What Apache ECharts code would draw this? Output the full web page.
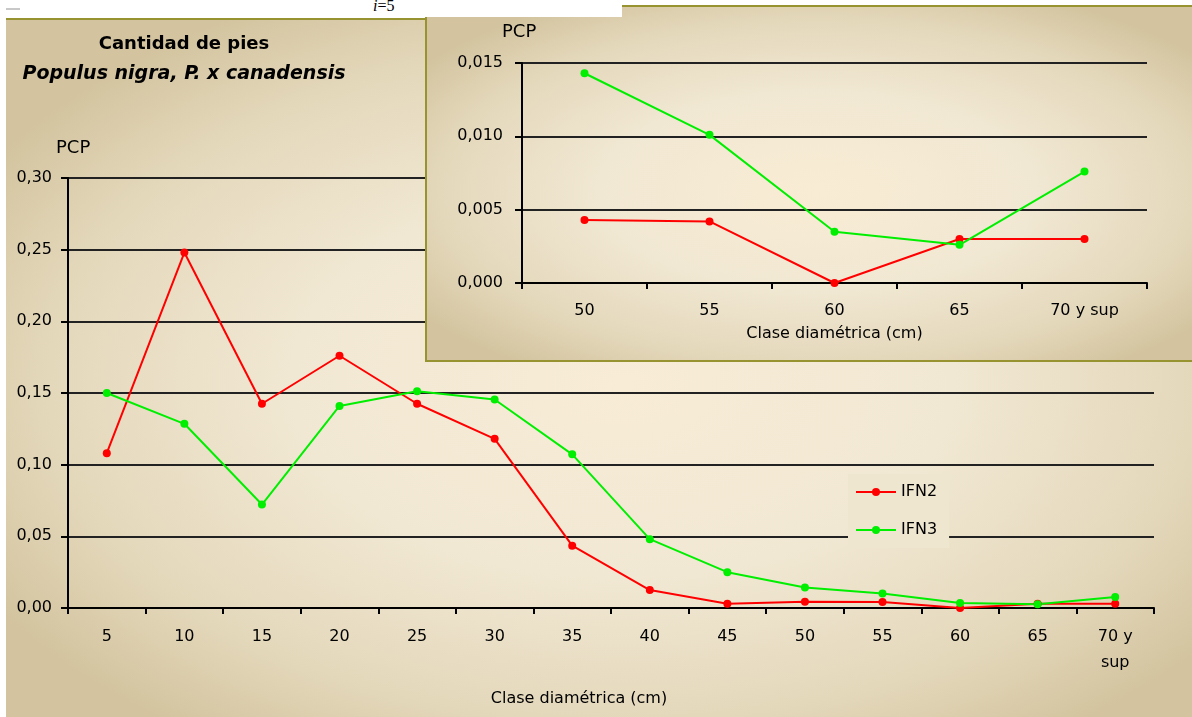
<!DOCTYPE html>
<html>
<head>
<meta charset="utf-8">
<script src="https://cdn.jsdelivr.net/npm/echarts@6/dist/echarts.min.js"></script>
<style>
  html, body { margin:0; padding:0; background:#ffffff; width:1192px; height:717px; overflow:hidden; }
  #mainBg { position:absolute; left:6px; top:18px; width:1186px; height:697px; border-top:2px solid #979331;
    background: radial-gradient(ellipse 62% 62% at 52% 52%, #f8ecd6 0%, #f1e8d3 45%, #e4d8bb 78%, #d3c49f 100%); }
  #main { position:absolute; left:0; top:0; width:1192px; height:717px; }
  #insetBox { position:absolute; left:425px; top:5px; width:780px; height:353px; border:2px solid #979331; border-right:none;
    background: radial-gradient(ellipse 62% 62% at 50% 52%, #f9ecd4 0%, #f1e8d3 45%, #e4d8bb 78%, #d3c49f 100%); }
  #inset { position:absolute; left:0; top:0; width:780px; height:353px; }
  #topStrip { position:absolute; left:0; top:0; width:622px; height:17px; background:#ffffff; }
  #dash { position:absolute; left:6px; top:8px; width:14px; height:2px; background:#c8c8c8; }
  #ilabel { position:absolute; left:373px; top:-3px; font-family:'Liberation Serif','DejaVu Serif',serif; font-size:16px; color:#000; }
</style>
</head>
<body>
<div id="mainBg"></div>
<div id="main"></div>
<div id="insetBox"><div id="inset"></div></div>
<div id="topStrip"><div id="dash"></div><div id="ilabel"><i>i</i>=5</div></div>
<script>
// ---- data ----
const categories = ['5','10','15','20','25','30','35','40','45','50','55','60','65','70 y\nsup'];
const ifn2 = [0.108, 0.248, 0.1425, 0.176, 0.1425, 0.118, 0.0435, 0.0125, 0.003, 0.0043, 0.0042, 0.0, 0.003, 0.003];
const ifn3 = [0.150, 0.1285, 0.0722, 0.141, 0.1512, 0.1455, 0.1072, 0.048, 0.025, 0.0143, 0.0101, 0.0035, 0.0026, 0.0076];
const insetCategories = ['50','55','60','65','70 y sup'];
const insetStart = 9;
const mainYTicks = { min: 0, max: 0.30, interval: 0.05 };
const insetYTicks = { min: 0, max: 0.015, interval: 0.005 };

const FONT = 'DejaVu Sans';
const TXT = '#000000';
const RED = '#ff0000';
const GREEN = '#00ee00';

function seriesDef(name, data, color) {
  return {
    name: name, type: 'line', data: data,
    symbol: 'circle', symbolSize: 8,
    lineStyle: { color: color, width: 2 },
    itemStyle: { color: color },
    emphasis: { disabled: true },
    animation: false
  };
}

function xAxisDef(cats, labelOpts) {
  return {
    type: 'category', data: cats, boundaryGap: true,
    axisLine: { show: true, onZero: false, lineStyle: { color: '#000', width: 2 } },
    axisTick: { show: true, length: 6, interval: 0, lineStyle: { color: '#000', width: 2 } },
    axisLabel: Object.assign({ interval: 0, color: TXT, fontFamily: FONT, fontSize: 16 }, labelOpts),
    splitLine: { show: false }
  };
}

function yAxisDef(t, digits, margin) {
  return {
    type: 'value', min: t.min, max: t.max, interval: t.interval,
    axisLine: { show: true, lineStyle: { color: '#000', width: 2 } },
    axisTick: { show: true, length: 7, lineStyle: { color: '#000', width: 2 } },
    axisLabel: { margin: margin, color: TXT, fontFamily: FONT, fontSize: 16,
      formatter: v => v.toFixed(digits).replace('.', ',') },
    splitLine: { show: true, lineStyle: { color: '#222', width: 2 } }
  };
}

const main = echarts.init(document.getElementById('main'), null, { renderer: 'canvas' });
main.setOption({
  backgroundColor: 'transparent',
  animation: false,
  grid: { left: 68, right: 38, top: 178, bottom: 109 },
  xAxis: xAxisDef(categories, { margin: 16, lineHeight: 26 }),
  yAxis: yAxisDef(mainYTicks, 2, 16),
  legend: {
    data: ['IFN2', 'IFN3'], orient: 'vertical', left: 848, top: 474,
    itemWidth: 40, itemHeight: 10, itemGap: 22,
    padding: [10, 12, 10, 7],
    backgroundColor: '#efe6d0',
    textStyle: { color: TXT, fontFamily: FONT, fontSize: 16 },
    selectedMode: false
  },
  graphic: [
    { type: 'text', x: 184, y: 44, style: { text: 'Cantidad de pies', fill: '#000',
      font: 'bold 18px "DejaVu Sans"', textAlign: 'center', textVerticalAlign: 'middle' } },
    { type: 'text', x: 184, y: 74, style: { text: 'Populus nigra, P. x canadensis', fill: '#000',
      font: 'italic bold 19px "DejaVu Sans"', textAlign: 'center', textVerticalAlign: 'middle' } },
    { type: 'text', x: 56, y: 148, style: { text: 'PCP', fill: TXT,
      font: '18px "DejaVu Sans"', textAlign: 'left', textVerticalAlign: 'middle' } },
    { type: 'text', x: 579, y: 699, style: { text: 'Clase diamétrica (cm)', fill: TXT,
      font: '16px "DejaVu Sans"', textAlign: 'center', textVerticalAlign: 'middle' } }
  ],
  series: [ seriesDef('IFN2', ifn2, RED), seriesDef('IFN3', ifn3, GREEN) ]
});

const inset = echarts.init(document.getElementById('inset'), null, { renderer: 'canvas' });
inset.setOption({
  backgroundColor: 'transparent',
  animation: false,
  grid: { left: 95, right: 60, top: 56, bottom: 77 },
  xAxis: Object.assign(xAxisDef(insetCategories, { margin: 19, lineHeight: 18 }), {
    name: 'Clase diamétrica (cm)', nameLocation: 'middle', nameGap: 43,
    nameTextStyle: { color: TXT, fontFamily: FONT, fontSize: 16 }
  }),
  yAxis: yAxisDef(insetYTicks, 3, 19),
  graphic: [
    { type: 'text', x: 75, y: 25, style: { text: 'PCP', fill: TXT,
      font: '18px "DejaVu Sans"', textAlign: 'left', textVerticalAlign: 'middle' } }
  ],
  series: [ seriesDef('IFN2', ifn2.slice(insetStart), RED), seriesDef('IFN3', ifn3.slice(insetStart), GREEN) ]
});
</script>
</body>
</html>
